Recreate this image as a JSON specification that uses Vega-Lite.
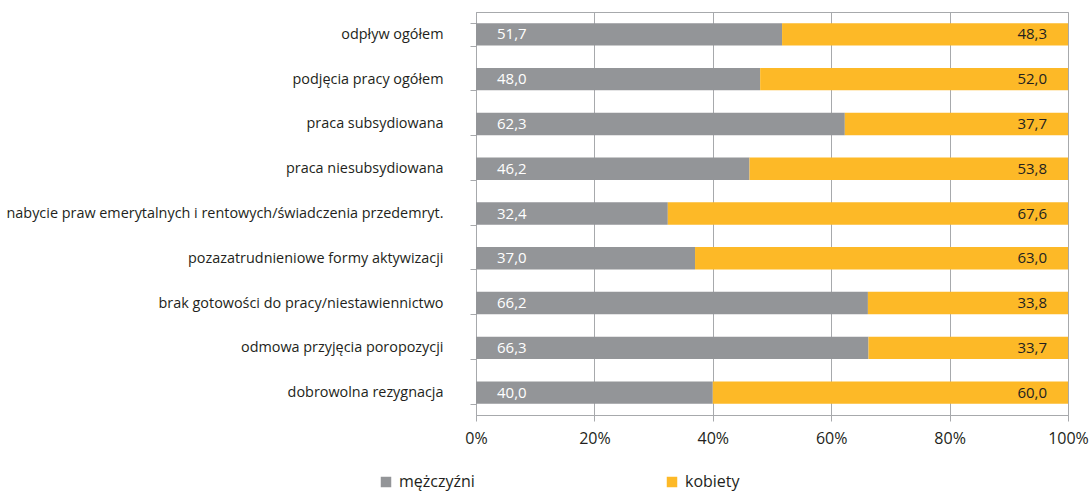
{
  "$schema": "https://vega.github.io/schema/vega-lite/v6.json",
  "autosize": {"type": "none"},
  "padding": {"left": 476, "top": 12, "right": 22, "bottom": 76},
  "width": 592,
  "height": 403,
  "config": {
    "font": "Open Sans",
    "locale": {"number": {"decimal": ",", "thousands": " ", "grouping": [3], "currency": ["", " zł"]}},
    "view": {"stroke": "#a7a9ac", "strokeWidth": 1}
  },
  "data": {"values": [
    {"cat": "odpływ ogółem", "sex": "mężczyźni", "v": 51.7},
    {"cat": "odpływ ogółem", "sex": "kobiety", "v": 48.3},
    {"cat": "podjęcia pracy ogółem", "sex": "mężczyźni", "v": 48.0},
    {"cat": "podjęcia pracy ogółem", "sex": "kobiety", "v": 52.0},
    {"cat": "praca subsydiowana", "sex": "mężczyźni", "v": 62.3},
    {"cat": "praca subsydiowana", "sex": "kobiety", "v": 37.7},
    {"cat": "praca niesubsydiowana", "sex": "mężczyźni", "v": 46.2},
    {"cat": "praca niesubsydiowana", "sex": "kobiety", "v": 53.8},
    {"cat": "nabycie praw emerytalnych i rentowych/świadczenia przedemryt.", "sex": "mężczyźni", "v": 32.4},
    {"cat": "nabycie praw emerytalnych i rentowych/świadczenia przedemryt.", "sex": "kobiety", "v": 67.6},
    {"cat": "pozazatrudnieniowe formy aktywizacji", "sex": "mężczyźni", "v": 37.0},
    {"cat": "pozazatrudnieniowe formy aktywizacji", "sex": "kobiety", "v": 63.0},
    {"cat": "brak gotowości do pracy/niestawiennictwo", "sex": "mężczyźni", "v": 66.2},
    {"cat": "brak gotowości do pracy/niestawiennictwo", "sex": "kobiety", "v": 33.8},
    {"cat": "odmowa przyjęcia poropozycji", "sex": "mężczyźni", "v": 66.3},
    {"cat": "odmowa przyjęcia poropozycji", "sex": "kobiety", "v": 33.7},
    {"cat": "dobrowolna rezygnacja", "sex": "mężczyźni", "v": 40.0},
    {"cat": "dobrowolna rezygnacja", "sex": "kobiety", "v": 60.0}
  ]},
  "encoding": {
    "y": {"field": "cat", "type": "nominal", "sort": null,
      "scale": {"paddingInner": 0.5, "paddingOuter": 0.25},
      "axis": {"title": null, "ticks": true, "tickBand": "extent", "tickSize": 6, "tickColor": "#a7a9ac", "domain": true, "domainColor": "#a7a9ac", "labelPadding": 27, "labelFontSize": 14.4, "labelColor": "#231f20", "labelLimit": 480}}
  },
  "layer": [
    {
      "mark": {"type": "bar"},
      "encoding": {
        "x": {"field": "v", "type": "quantitative", "stack": "normalize",
          "scale": {"domain": [0, 1]},
          "axis": {"title": null, "format": ".0%", "values": [0, 0.2, 0.4, 0.6, 0.8, 1], "labelFlush": false, "grid": true, "gridColor": "#a7a9ac", "gridOpacity": 1, "domainColor": "#a7a9ac", "tickColor": "#a7a9ac", "tickSize": 6, "labelPadding": 9, "labelFontSize": 16, "labelColor": "#231f20"}},
        "order": {"field": "sex", "sort": "descending"},
        "color": {"field": "sex", "type": "nominal",
          "scale": {"domain": ["mężczyźni", "kobiety"], "range": ["#939598", "#fdb927"]},
          "legend": {"title": null, "orient": "none", "legendX": -98, "legendY": 462, "direction": "horizontal", "symbolType": "square", "symbolSize": 110, "symbolStrokeWidth": 0, "symbolOpacity": 1, "labelFontSize": 16, "labelColor": "#231f20", "labelOffset": 5, "columnPadding": 189}}
      }
    },
    {
      "transform": [{"filter": "datum.sex === 'mężczyźni'"}],
      "mark": {"type": "text", "align": "left", "dx": 21, "fontSize": 15, "color": "#ffffff"},
      "encoding": {
        "x": {"datum": 0, "type": "quantitative"},
        "text": {"field": "v", "type": "quantitative", "format": ".1f"}
      }
    },
    {
      "transform": [{"filter": "datum.sex === 'kobiety'"}],
      "mark": {"type": "text", "align": "right", "dx": -21, "fontSize": 15, "color": "#231f20"},
      "encoding": {
        "x": {"datum": 1, "type": "quantitative"},
        "text": {"field": "v", "type": "quantitative", "format": ".1f"}
      }
    }
  ]
}
